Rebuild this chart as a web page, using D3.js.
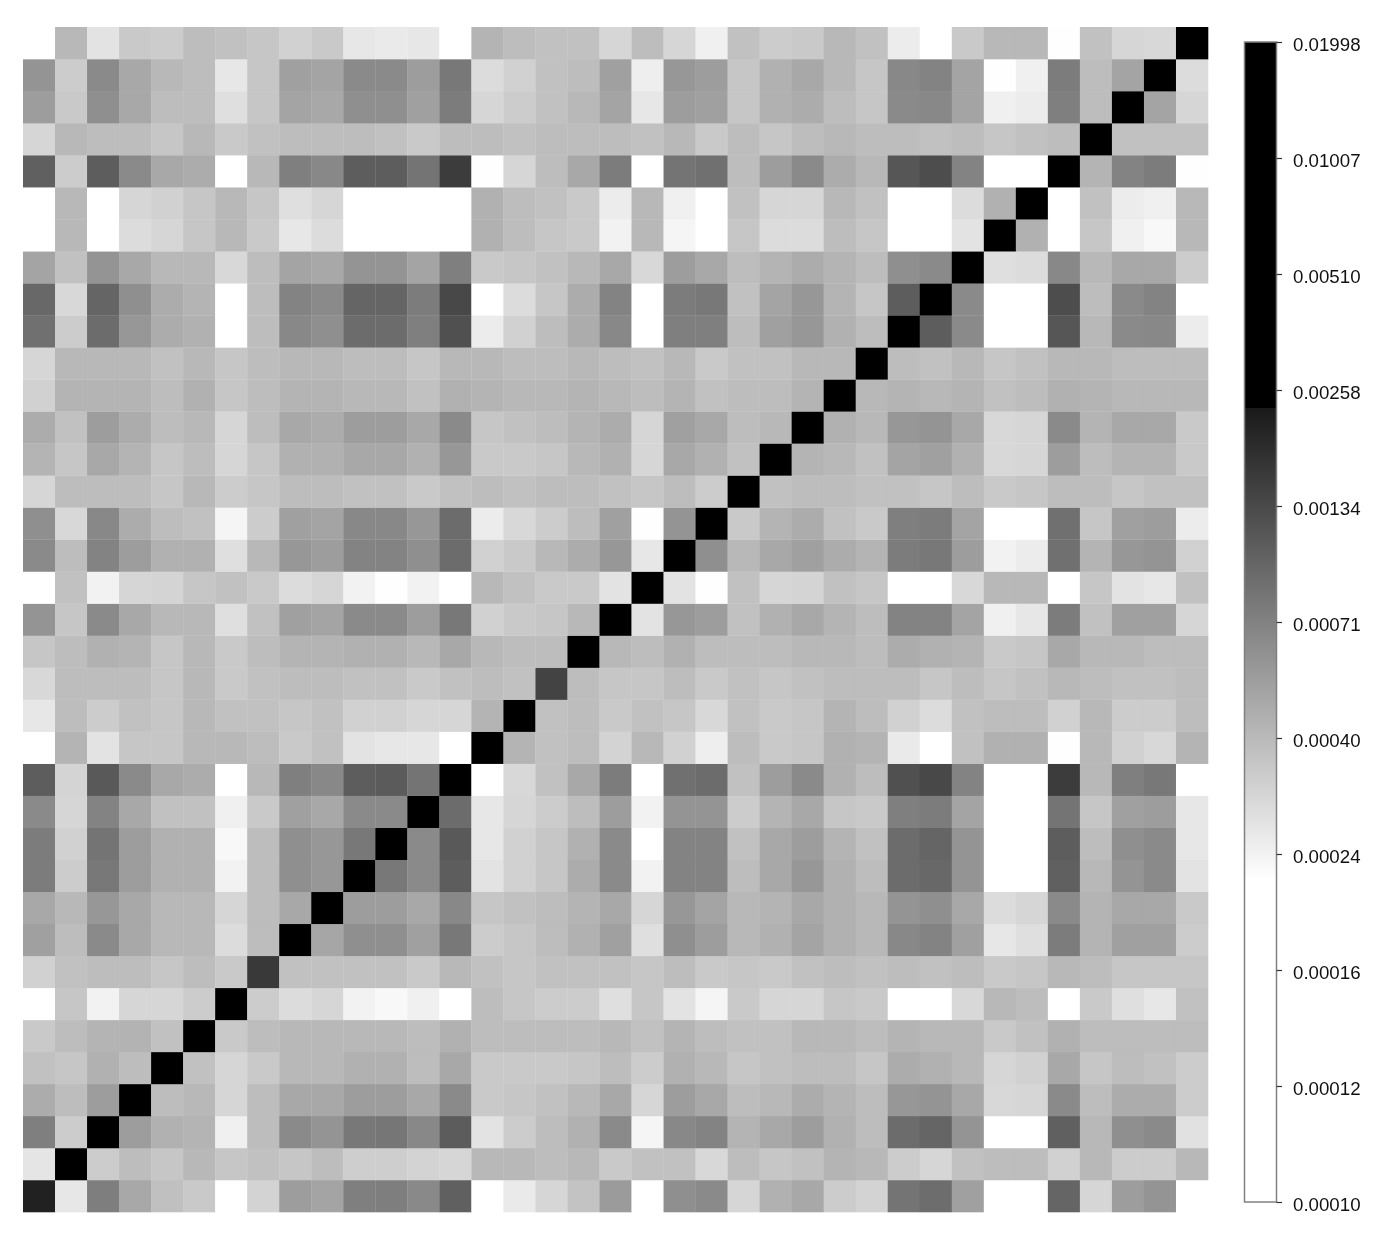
<!DOCTYPE html>
<html>
<head>
<meta charset="utf-8">
<title>Covariance heatmap</title>
<script src="https://cdn.jsdelivr.net/npm/d3@7"></script>
<style>
  html, body { margin: 0; padding: 0; background: #fff; }
  svg { display: block; filter: blur(0.7px); }
  .tick text { font-family: "Liberation Sans", Arial, sans-serif; font-size: 18.7px; fill: #111; }
</style>
</head>
<body>
<div id="chart"></div>
<script>
// Colour bar tick labels (real values), bottom to top
const tickValues = [0.00010, 0.00012, 0.00016, 0.00024, 0.00040, 0.00071, 0.00134, 0.00258, 0.00510, 0.01007, 0.01998];

// Cell values in units of 1e-5.
// First row is the bottom row of the heatmap, first number the left column.
const unit = 1e-5;
const cellRows = [
  [215,26.5,74,48,38,35,18,32,54,50,73,74,66,104,18,26,31,37,55,18,62,65,31,44,48,34,32,83,90,52,17,17,98,31,54,59,19],
  [27,1300,34,39,36,41,36,37.5,36,39,33.5,33.5,32,31,41,41,39,41,35,37.5,37.5,30.5,39,36,37.5,42.5,41,34,31,37.5,39,39,32.5,41,34,34,41],
  [73,34,900,54,44,42.5,24.5,39,65,59,79,81,67,109,27.5,34,39,44,65,23.5,67,70,42.5,48,54,44,39,91,98,59,18,18,104,41,62,65,28],
  [46,39,54,700,39,41,31,39,48,48,54,54,48,65,35,36,37.5,41,48,31,54,48,39,41,46,42.5,39,57,59,48,30.5,31,65,39,46,46,34],
  [37.5,36,44,39,600,37.5,31,35,41,41,44,44,39,48,35,35,35,36,39,34,44,41,36,37.5,39,39,36,46,44,41,31,32.5,48,36,39,37.5,34],
  [35,39,42.5,43,37.5,500,35,39,41,41,41,41,39,44,39,39,39,39,41,37.5,42.5,39,37.5,37.5,41,41,39,42.5,41,41,35,37.5,44,39,39,39,39],
  [17,36,24,31,31,34,1500,34,29.5,31,24,23,24.5,20,39,36,34,34,28.5,36,27.5,23.5,35,31,31,36,35,19,20,30.5,41,39,20,35,28.5,26.5,37.5],
  [32.5,37.5,39,39,36,39,35,162,37.5,37.5,37.5,37.5,35,41,37.5,36,37.5,37.5,37.5,36,39,35,36,35,37.5,39,37.5,39,37.5,39,35,36,41,39,36,36,36],
  [52,39,65,48,41,41,29.5,39,1000,49,62,62,52,79,34,36,39,44,52,28.5,62,54,41,44,50,44,41,67,70,52,26.5,28.5,76,42.5,52,52,34],
  [48,41,57,48,41,41,31,39,48,800,54,54,48,67,36,37.5,39,42.5,48,31,57,50,41,42.5,48,44,41,59,62,48,29.5,31,65,42.5,48,48,35],
  [76,34,79,54,44,44,24,39,62,57,700,79,65,107,27.5,32.5,36,46,65,24,70,70,39,48,57,44,39,91,95,59,17,17,104,41,59,65,27.5],
  [76,32.5,83,54,44,44,23,39,62,57,79,700,65,113,26.5,32.5,36,44,65,21.5,70,70,37.5,48,54,42.5,37.5,91,98,59,17,17,107,39,62,65,26.5],
  [65,31,70,48,37.5,37.5,24.5,35,52,48,65,65,900,91,26.5,31,34,39,54,24,59,59,34,42.5,48,36,35,73,76,50,18,18,83,36,52,54,26.5],
  [107,31.5,113,65,48,46,18,41,73,67,107,110,83,1200,19,30.5,37.5,48,76,18,87,91,37.5,54,65,44,39,124,136,70,15,15,157,41,73,79,20],
  [19,42.5,27.5,36,36,41,41,39,35,37.5,27.5,26.5,26.5,20,1000,42.5,37.5,39,32,41,32.5,25,39,35,36,44,42.5,26,20,37.5,44,44,22,41,32.5,30.5,42.5],
  [26.5,39,34,37.5,36,41,37.5,37.5,36,37.5,32.5,32.5,31,31,42.5,900,37.5,39,35,37.5,36,30.5,37.5,35,36,42.5,39,32.5,29.5,37.5,39,39,32.5,41,34,34,39],
  [30.5,39,39,39,36,41,35,37.5,39,39,37.5,37.5,35,37.5,39,37.5,145,39,36,36,39,35,37.5,36,37.5,39,39,39,36,39,36,37.5,41,39,37.5,37.5,39],
  [36,39,44,42.5,36,41,35,39,42.5,42.5,44,44,41,48,41,39,39,800,41,39,44,39,39,39,41,41,39,46,44,42.5,35,36,48,41,41,39,39],
  [59,36,65,48,41,41,28.5,37.5,52,50,65,65,54,79,32.5,35,36,41,1100,27.5,57,54,37.5,44,48,42.5,39,70,70,50,24.5,26.5,76,37.5,52,52,31],
  [17,37.5,24,31,31.5,36,37.5,35,29.5,31,24,22,24,19,41,37.5,35,35,27.5,1200,27.5,22,37.5,31,31.5,37.5,36,18,19,30.5,41,41,20,36,27.5,26.5,37.5],
  [65,39,70,54,44,44,28.5,41,57,54,70,70,62,91,32.5,35,41,46,57,26.5,1000,62,41,48,52,46,42.5,76,79,54,24,25.5,87,42.5,57,59,32.5],
  [62,30.5,67,46,39,37.5,23.5,34,52,50,67,67,57,91,25.5,30.5,34,39,52,22,59,800,35,42.5,46,37.5,35,73,76,50,18,18,87,36,52,54,25.5],
  [31,39,39,39,36,41,34,36,39,39,37.5,37.5,35,37.5,39,37.5,39,39,37.5,36,39,34,700,37.5,39,39,37.5,37.5,36,39,35,36,39,39,36,37.5,37.5],
  [42.5,36,48,42.5,36,39,31,36,44,44,48,48,44,57,35,35,36,41,44,31,48,44,37.5,700,42.5,41,37.5,50,52,44,30.5,31,54,39,42.5,42.5,35],
  [46,37.5,54,46,39,41,31,39,48,46,54,54,48,65,36,37.5,39,42.5,46,31,52,48,39,41,900,44,41,57,59,48,30.5,31,65,42.5,48,48,35],
  [32.5,42.5,42.5,42.5,39,44,36,39,42.5,42.5,41,41,37.5,44,42.5,41,41,42.5,41,39,42.5,37.5,39,39,42.5,800,41,42.5,41,42.5,37.5,39,44,42.5,41,41,41],
  [31,41,41,41,37.5,41,36,39,41,41,39,39,36,41,41,39,39,41,39,37.5,41,35,37.5,37.5,41,41,700,39,37.5,41,36,37.5,41,41,39,39,39],
  [87,34,91,57,46,44,19,39,67,62,91,91,73,124,25.5,32.5,39,46,67,19,73,73,39,52,57,44,39,800,107,65,17,17,117,41,65,67,25.5],
  [95,30.5,98,62,46,42.5,18,39,70,65,98,98,76,136,20,29.5,36,46,70,19,76,79,37.5,50,57,42.5,36,107,1100,65,16,16,129,39,65,70,20],
  [50,37.5,59,48,41,41,30.5,39,50,48,59,59,50,73,35,36,37.5,41,48,30.5,54,48,39,42.5,46,42.5,39,62,65,1000,28.5,29.5,67,41,48,48,34],
  [16,41,18,29.5,31,36,41,35,26.5,29.5,16,16,17,19,44,39,36,35,24,41,23.5,20,36,29.5,29.5,39,36,15,15,27.5,1000,44,17,36,24.5,23,41],
  [17,41,19,31,32.5,36,41,36,28.5,31,17,17,18,20,44,39,37.5,35,25.5,41,24.5,20,37.5,31,31,41,37.5,16,16,29.5,44,1200,17,37.5,25.5,24.5,41],
  [104,34,107,65,48,46,19,41,73,67,107,107,83,157,22,31,39,48,76,18,83,87,39,54,65,46,41,117,129,70,17,17,1300,42.5,70,76,22],
  [31,41,39,39,36,41,35,37.5,39,39,39,37.5,35,39,39,37.5,39,39,39,37.5,41,35,39,36,39,41,39,39,37.5,39,36,37.5,39,1000,37.5,37.5,37.5],
  [54,35,62,48,39,39,28.5,36,50,48,62,62,52,76,31,34,37.5,41,50,26.5,54,52,36,44,46,39,36,65,67,50,24.5,25.5,73,39,1500,50,31],
  [59,34,65,48,41,39,26.5,36,52,50,65,65,54,79,29.5,32.5,37.5,39,52,25,57,54,36,44,48,41,36,67,70,50,22,24.5,76,39,50,1700,29.5],
  [18,41,27.5,35,34,39,37.5,36,32.5,35,26.5,26,26.5,19,42.5,39,37.5,37.5,31,39,31,24.5,37.5,34,35,41,37.5,25.5,20,35,41,41,22,37.5,31,30.5,1998]
];

// Step 1. Set up the drawing area
const svgWidth = 1380;
const svgHeight = 1243;

const heat = { left: 23, right: 1208, top: 27, bottom: 1212 };
const bar = { left: 1244.5, right: 1276.5, top: 42, bottom: 1202 };

const svg = d3
  .select("#chart")
  .append("svg")
  .attr("width", svgWidth)
  .attr("height", svgHeight);

// Step 2. Scales
const indices = d3.range(cellRows.length);

const xScale = d3.scaleBand()
  .domain(indices)
  .range([heat.left, heat.right]);

const yScale = d3.scaleBand()
  .domain(indices)
  .range([heat.bottom, heat.top]);

// The colour bar ticks are evenly spaced, each step log-interpolated
const barY = d3.scaleLog()
  .domain(tickValues)
  .range(tickValues.map((d, i) => bar.bottom + (bar.top - bar.bottom) * i / (tickValues.length - 1)))
  .clamp(true);

// Grey ramp along the bar: white below, black above
const rampTop = 408;
const rampBottom = 880;
const greyAt = d3.scaleLinear()
  .domain([rampTop, rampBottom])
  .range(["#1a1a1a", "#ffffff"])
  .clamp(true);

const colorAtY = y => (y < rampTop ? "#000000" : greyAt(y));

// Step 3. Heatmap cells
const cells = cellRows.flatMap((row, i) => row.map((value, j) => ({ i, j, value: value * unit })));

svg.append("g")
  .selectAll("rect")
  .data(cells)
  .enter()
  .append("rect")
  .attr("x", d => xScale(d.j))
  .attr("y", d => yScale(d.i))
  .attr("width", xScale.bandwidth() + 0.3)
  .attr("height", yScale.bandwidth() + 0.3)
  .attr("fill", d => colorAtY(barY(d.value)));

// Step 4. Colour bar
const barGroup = svg.append("g");

barGroup.selectAll("rect")
  .data(d3.range(bar.top, bar.bottom))
  .enter()
  .append("rect")
  .attr("x", bar.left)
  .attr("y", d => d)
  .attr("width", bar.right - bar.left)
  .attr("height", 1.2)
  .attr("fill", d => colorAtY(d));

barGroup.append("rect")
  .attr("x", bar.left)
  .attr("y", bar.top)
  .attr("width", bar.right - bar.left)
  .attr("height", bar.bottom - bar.top)
  .attr("fill", "none")
  .attr("stroke", "#808080")
  .attr("stroke-width", 1.5);

const barAxis = d3.axisRight(barY)
  .tickValues(tickValues)
  .tickFormat(d3.format(".5f"))
  .tickSize(5.5)
  .tickPadding(11);

svg.append("g")
  .attr("transform", `translate(${bar.right}, 0)`)
  .call(barAxis)
  .call(g => g.select(".domain").remove())
  .call(g => g.selectAll(".tick line").attr("stroke", "#333").attr("stroke-width", 1.2))
  .call(g => g.selectAll(".tick text").attr("dy", "0.44em"));
</script>
</body>
</html>
